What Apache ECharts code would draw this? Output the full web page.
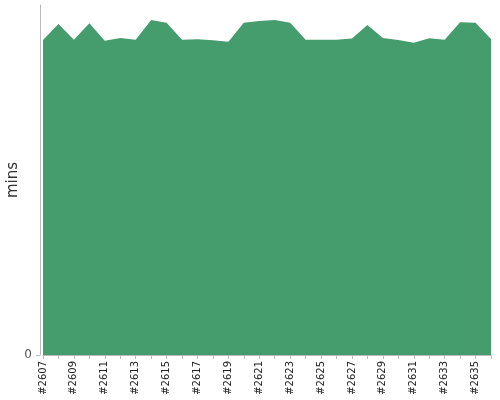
<!DOCTYPE html>
<html><head><meta charset="utf-8">
<script src="https://cdn.jsdelivr.net/npm/echarts@6/dist/echarts.min.js"></script>
<style>html,body{margin:0;padding:0;background:#fff}#c{width:500px;height:400px}</style>
</head><body><div id="c"></div>
<script>
var categories = ["#2607","#2608","#2609","#2610","#2611","#2612","#2613","#2614","#2615","#2616","#2617","#2618","#2619","#2620","#2621","#2622","#2623","#2624","#2625","#2626","#2627","#2628","#2629","#2630","#2631","#2632","#2633","#2634","#2635","#2636"];
var minsValues = [90.0,94.6,90.1,94.8,89.8,90.6,90.1,95.7,94.9,90.1,90.2,89.9,89.5,94.9,95.4,95.7,94.9,90.1,90.1,90.1,90.4,94.3,90.6,90.0,89.2,90.5,90.1,95.1,94.9,90.3];
var yTicks = [0];
var chart = echarts.init(document.getElementById('c'));
chart.setOption({
  animation:false,
  grid:{left:43,right:9,top:5,bottom:45,containLabel:false,outerBoundsMode:'none'},
  xAxis:{type:'category',data:categories,boundaryGap:false,
    axisLine:{lineStyle:{color:'#bbb'}},
    axisTick:{alignWithLabel:true,interval:0,length:4,lineStyle:{color:'#bbb'}},
    axisLabel:{interval:1,rotate:90,fontSize:10,color:'#222',fontFamily:'DejaVu Sans',margin:6}},
  yAxis:{type:'value',min:0,max:100,interval:100,offset:3,name:'mins',nameLocation:'middle',nameGap:19,nameMoveOverlap:false,
    nameTextStyle:{fontSize:15,color:'#333',fontFamily:'DejaVu Sans'},
    axisLine:{show:true,lineStyle:{color:'#bbb'}},
    axisTick:{show:true,length:4,customValues:yTicks,lineStyle:{color:'#bbb'}},
    splitLine:{show:false},
    axisLabel:{color:'#555',fontSize:12,fontFamily:'DejaVu Sans',customValues:yTicks}},
  series:[{type:'line',data:minsValues,symbol:'none',lineStyle:{width:0},
    areaStyle:{color:'#459c6d',opacity:1}}]
});
</script></body></html>
